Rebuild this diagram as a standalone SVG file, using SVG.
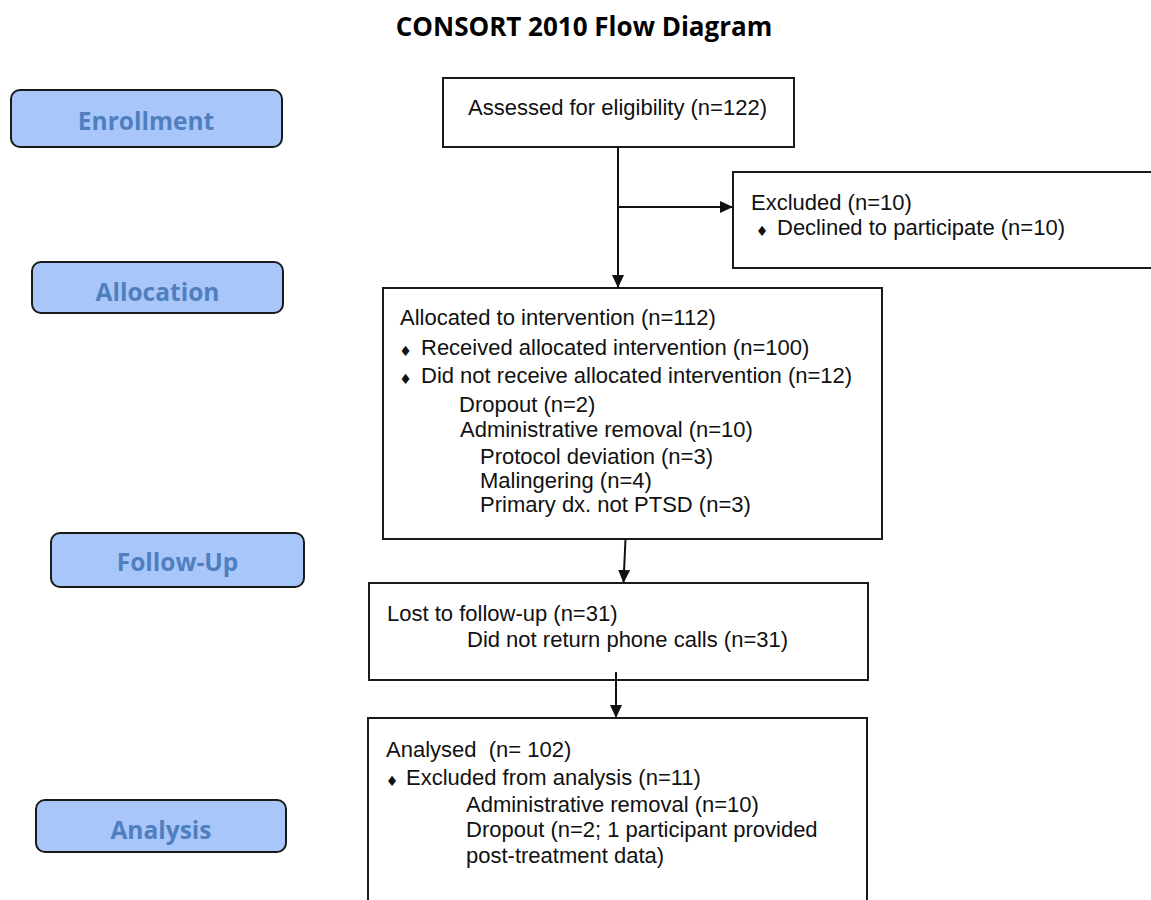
<svg xmlns="http://www.w3.org/2000/svg" width="1151" height="900" viewBox="0 0 1151 900">
<style>
.phase rect{fill:#a8c6fa;stroke:#1a1a1a;stroke-width:2}
.phase text{font-family:"Open Sans",sans-serif;font-weight:bold;font-size:24.5px;fill:#4f7fbf;text-anchor:middle}
.box rect{fill:#fff;stroke:#1a1a1a;stroke-width:2}
.box text{font-family:"Liberation Sans",Arial,sans-serif;font-size:22px;fill:#111}
.box text.b{font-family:"DejaVu Sans",sans-serif;font-size:14px;text-anchor:middle}
.title{font-family:"Open Sans",sans-serif;font-weight:bold;font-size:26px;fill:#000;text-anchor:middle}
#connectors line{stroke:#111;stroke-width:2;fill:none}
</style>
<defs>
<marker id="arr" markerUnits="userSpaceOnUse" markerWidth="14" markerHeight="12" refX="13" refY="6" orient="auto">
<path d="M0,0 L13,6 L0,12 Z" fill="#111"/>
</marker>
</defs>
<rect width="1151" height="900" fill="#fff"/>
<text class="title" x="584" y="36">CONSORT 2010 Flow Diagram</text>

<g id="phase-enrollment" class="phase"><rect x="11" y="90" width="271" height="57" rx="9"/><text x="146" y="130">Enrollment</text></g>
<g id="phase-allocation" class="phase"><rect x="32" y="262" width="251" height="51" rx="9"/><text x="157.5" y="301">Allocation</text></g>
<g id="phase-followup" class="phase"><rect x="51" y="533" width="253" height="54" rx="9"/><text x="177.5" y="571">Follow-Up</text></g>
<g id="phase-analysis" class="phase"><rect x="36" y="800" width="250" height="52" rx="9"/><text x="161" y="839">Analysis</text></g>

<g id="assessed" class="box"><rect x="443" y="78" width="351" height="69"/><text x="468" y="115">Assessed for eligibility (n=122)</text></g>

<g id="excluded" class="box"><rect x="733" y="172" width="440" height="96"/>
<text x="751" y="210">Excluded (n=10)</text>
<text class="b" x="762" y="236">♦</text><text x="777" y="235">Declined to participate (n=10)</text></g>

<g id="allocated" class="box"><rect x="383" y="288" width="499" height="251"/>
<text x="400" y="325">Allocated to intervention (n=112)</text>
<text class="b" x="405.5" y="356">♦</text><text x="421" y="355">Received allocated intervention (n=100)</text>
<text class="b" x="405.5" y="384">♦</text><text x="421" y="383">Did not receive allocated intervention (n=12)</text>
<text x="459" y="412">Dropout (n=2)</text>
<text x="460" y="437">Administrative removal (n=10)</text>
<text x="480" y="464">Protocol deviation (n=3)</text>
<text x="480" y="488">Malingering (n=4)</text>
<text x="480" y="512">Primary dx. not PTSD (n=3)</text></g>

<g id="lost" class="box"><rect x="369" y="583" width="499" height="97"/>
<text x="387" y="621">Lost to follow-up (n=31)</text>
<text x="467" y="647">Did not return phone calls (n=31)</text></g>

<g id="analysed" class="box"><rect x="368" y="718" width="499" height="200"/>
<text x="386" y="757" xml:space="preserve">Analysed  (n= 102)</text>
<text class="b" x="392" y="786">♦</text><text x="406" y="785">Excluded from analysis (n=11)</text>
<text x="466" y="812">Administrative removal (n=10)</text>
<text x="466" y="837">Dropout (n=2; 1 participant provided</text>
<text x="466" y="863">post-treatment data)</text></g>

<g id="connectors">
<line x1="618" y1="147" x2="618" y2="288" marker-end="url(#arr)"/>
<line x1="618" y1="207" x2="733" y2="207" marker-end="url(#arr)"/>
<line x1="625.5" y1="539" x2="623.5" y2="583" marker-end="url(#arr)"/>
<line x1="616" y1="672" x2="616" y2="718" marker-end="url(#arr)"/>
</g>
</svg>
